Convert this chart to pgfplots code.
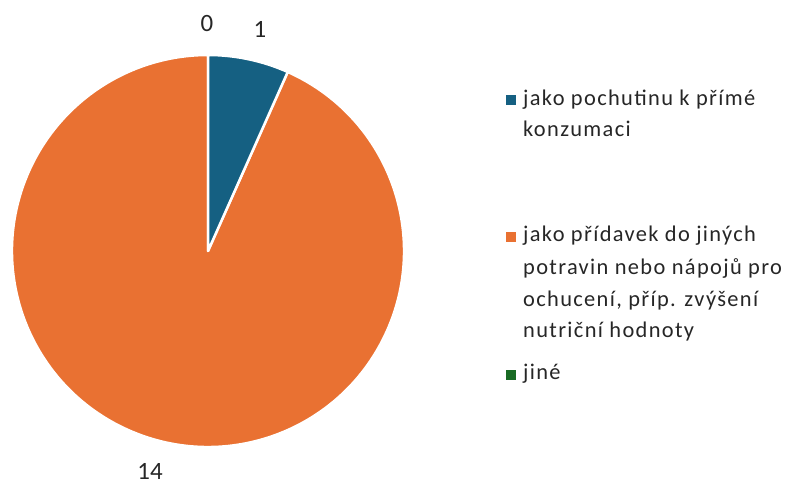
\documentclass[border=0pt]{standalone}
\usepackage{pgfplots}
\usepackage{pgfplotstable}
\pgfplotsset{compat=1.18}
\usepackage{fontspec}
\setmainfont{Carlito}
\newfontfamily\legfont[LetterSpace=6]{Carlito}
\definecolor{cblue}{HTML}{156082}
\definecolor{corange}{HTML}{E97132}
\definecolor{cgreen}{HTML}{196B24}

\pgfplotstableread{
value
1
14
0
}\piedata

\pgfplotstablegetelem{0}{value}\of\piedata \global\let\va\pgfplotsretval
\pgfplotstablegetelem{1}{value}\of\piedata \global\let\vb\pgfplotsretval
\pgfplotstablegetelem{2}{value}\of\piedata \global\let\vc\pgfplotsretval
\pgfmathsetmacro{\tot}{\va+\vb+\vc}
\pgfmathsetmacro{\aS}{90}
\pgfmathsetmacro{\aA}{90-360*\va/\tot}
\pgfmathsetmacro{\aB}{\aA-360*\vb/\tot}
\pgfmathsetmacro{\aC}{\aB-360*\vc/\tot}

\begin{document}
\begin{tikzpicture}
\useasboundingbox (0,0) rectangle (790bp,484bp);
\begin{axis}[width=790bp,height=484bp,scale only axis,
  xmin=0,xmax=790,ymin=0,ymax=484,hide axis,clip=false]
\fill[corange, draw=white, line width=2.5bp, line join=round]
  (axis cs:208,233) -- ++(\aA:196bp) arc[start angle=\aA, end angle=\aB, radius=196bp] -- cycle;
\fill[cblue, draw=white, line width=2.5bp, line join=round]
  (axis cs:208,233) -- ++(\aS:196bp) arc[start angle=\aS, end angle=\aA, radius=196bp] -- cycle;
\draw[white, line width=2.5bp] (axis cs:208,233) -- ++(\aC:196bp);
% data labels
\node[font=\fontsize{25}{30}\selectfont, text=black!85, inner sep=1pt] at (axis cs:207,460) {\vc};
\node[font=\fontsize{25}{30}\selectfont, text=black!85, inner sep=1pt] at (axis cs:260,454.5) {\va};
\node[font=\fontsize{25}{30}\selectfont, text=black!85, inner sep=1pt] at (axis cs:150,13) {\vb};
% legend
\fill[cblue] (axis cs:506,379) rectangle (axis cs:516,389);
\fill[corange] (axis cs:506,242) rectangle (axis cs:516,252);
\fill[cgreen] (axis cs:506,104) rectangle (axis cs:516,114);
\begin{scope}[every node/.style={anchor=base west, inner sep=0pt, font=\legfont\fontsize{22.5}{26}\selectfont, text=black!85}]
\node at (axis cs:523,378.5) {jako pochutinu k přímé};
\node at (axis cs:523,347.5) {konzumaci};
\node at (axis cs:523,242.5) {jako přídavek do jiných};
\node at (axis cs:523,209.5) {potravin nebo nápojů pro};
\node at (axis cs:523,177.5) {ochucení, příp. zvýšení};
\node at (axis cs:523,146.5) {nutriční hodnoty};
\node at (axis cs:523,104.5) {jiné};
\end{scope}
\end{axis}
\end{tikzpicture}
\end{document}
